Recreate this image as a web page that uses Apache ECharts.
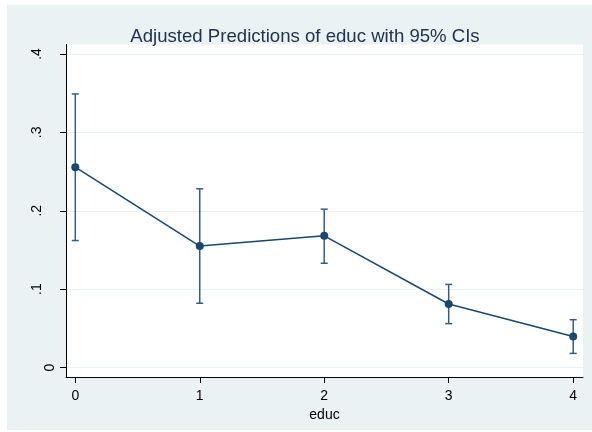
<!DOCTYPE html>
<html>
<head>
<meta charset="utf-8">
<script src="https://cdn.jsdelivr.net/npm/echarts@6/dist/echarts.min.js"></script>
<style>
  html, body { margin: 0; padding: 0; background: #fff; }
  #chart { width: 592px; height: 432px; }
</style>
</head>
<body>
<div id="chart"></div>
<script>
// values
const educLevels = [0, 1, 2, 3, 4];
const margins = [0.2556, 0.155, 0.168, 0.081, 0.0396];
const ciLower = [0.162, 0.082, 0.133, 0.056, 0.018];
const ciUpper = [0.349, 0.228, 0.202, 0.106, 0.061];
const yTicks = [0, 0.1, 0.2, 0.3, 0.4];
const xTicks = [0, 1, 2, 3, 4];

const NAVY = "#1a476f";
const FONT = "'Liberation Sans', Arial, sans-serif";

const chart = echarts.init(document.getElementById("chart"), null, { renderer: "canvas" });

const option = {
  backgroundColor: "#ffffff",
  animation: false,
  graphic: [
    {
      type: "rect",
      z: -10,
      silent: true,
      shape: { x: 7, y: 5, width: 585, height: 425 },
      style: { fill: "#eaf2f3" },
    },
  ],
  title: {
    text: "Adjusted Predictions of educ with 95% CIs",
    left: 300,
    top: 22,
    textAlign: "center",
    textStyle: {
      color: "#23334f",
      fontSize: 18.6,
      fontWeight: "normal",
      fontFamily: FONT,
    },
  },
  grid: {
    left: 66,
    right: 9,
    top: 44.5,
    bottom: 55,
    show: true,
    backgroundColor: "#ffffff",
    borderWidth: 0,
  },
  xAxis: {
    type: "value",
    min: -0.0746,
    max: 4.079,
    name: "educ",
    nameLocation: "middle",
    nameGap: 24,
    nameTextStyle: { color: "#000", fontSize: 14, fontFamily: FONT },
    axisLine: { show: true, onZero: false, lineStyle: { color: "#000", width: 1 } },
    axisTick: { show: true, length: 6, customValues: xTicks, lineStyle: { color: "#000" } },
    axisLabel: {
      customValues: xTicks,
      margin: 12,
      color: "#000",
      fontSize: 14,
      fontFamily: FONT,
    },
    splitLine: { show: false },
  },
  yAxis: {
    type: "value",
    min: -0.0121,
    max: 0.4121,
    axisLine: { show: true, onZero: false, lineStyle: { color: "#000", width: 1 } },
    axisTick: { show: true, length: 6, customValues: yTicks, lineStyle: { color: "#000" } },
    axisLabel: {
      customValues: yTicks,
      rotate: 90,
      margin: 9,
      color: "#000",
      fontSize: 14,
      fontFamily: FONT,
      formatter: (v) => {
        if (Math.abs(v) < 1e-9) return "{z|0}";
        return "{d|" + String(+v.toFixed(1)).replace(/^0/, "") + "}";
      },
      rich: {
        z: { fontSize: 14, fontFamily: FONT, color: "#000" },
        d: { fontSize: 14, fontFamily: FONT, color: "#000", padding: [0, 0, 13, 0] },
      },
    },
    splitLine: { show: true, lineStyle: { color: "#eaf2f3", width: 1 } },
  },
  series: [
    {
      type: "custom",
      name: "95% CI",
      z: 2,
      data: educLevels.map((x, i) => [x, ciLower[i], ciUpper[i]]),
      renderItem: (params, api) => {
        const lo = api.coord([api.value(0), api.value(1)]);
        const hi = api.coord([api.value(0), api.value(2)]);
        const cap = 3.5;
        const style = { stroke: "#355d84", lineWidth: 1.5 };
        return {
          type: "group",
          children: [
            { type: "line", shape: { x1: lo[0], y1: lo[1], x2: hi[0], y2: hi[1] }, style },
            { type: "line", shape: { x1: lo[0] - cap, y1: lo[1], x2: lo[0] + cap, y2: lo[1] }, style },
            { type: "line", shape: { x1: hi[0] - cap, y1: hi[1], x2: hi[0] + cap, y2: hi[1] }, style },
          ],
        };
      },
    },
    {
      type: "line",
      name: "Margin",
      z: 3,
      data: educLevels.map((x, i) => [x, margins[i]]),
      symbol: "circle",
      symbolSize: 8,
      lineStyle: { color: NAVY, width: 1.5 },
      itemStyle: { color: NAVY, borderWidth: 0 },
    },
  ],
};

chart.setOption(option);
</script>
</body>
</html>
